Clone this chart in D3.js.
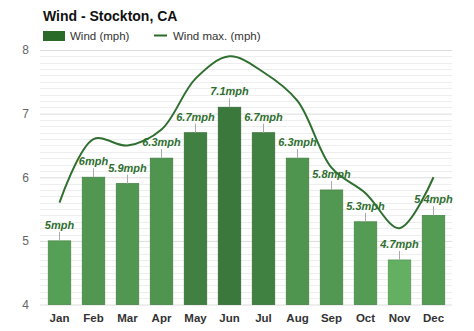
<!DOCTYPE html>
<html><head><meta charset="utf-8">
<script src="https://cdn.jsdelivr.net/npm/d3@7"></script>
<style>
html,body{margin:0;padding:0;background:#fff;}
svg{display:block;font-family:"Liberation Sans",Arial,Helvetica,sans-serif;}
</style></head>
<body><svg id="c" width="474" height="331"></svg>
<script>
const months = ["Jan","Feb","Mar","Apr","May","Jun","Jul","Aug","Sep","Oct","Nov","Dec"];
const wind = [5, 6, 5.9, 6.3, 6.7, 7.1, 6.7, 6.3, 5.8, 5.3, 4.7, 5.4];
const windMax = [5.6, 6.6, 6.5, 6.75, 7.55, 7.9, 7.65, 7.2, 6.15, 5.75, 5.2, 6.0];
const yTicks = [4, 5, 6, 7, 8];
const title = "Wind - Stockton, CA";
const legendLabels = ["Wind (mph)", "Wind max. (mph)"];

const svg = d3.select("#c");
const x = d3.scaleBand().domain(months).range([42.5, 450.5]).paddingInner(0.34).paddingOuter(0.17);
const y = d3.scaleLinear().domain([4, 8]).range([304.5, 50]);
const color = d3.scaleLinear().domain([4.7, 5.0, 6.3, 6.7, 7.1])
  .range(["#63b063", "#569f56", "#4f944f", "#408040", "#3b783b"]);

// minor gridlines
const minor = d3.range(40, 80).map(d => d / 10).filter(d => d % 1 !== 0);
svg.append("g").selectAll("line").data(minor).join("line")
  .attr("x1", 40).attr("x2", 452)
  .attr("y1", d => Math.round(y(d)) + 0.5).attr("y2", d => Math.round(y(d)) + 0.5)
  .attr("stroke", "#eeeeee").attr("stroke-width", 1);

// major gridlines via axis
const yAxis = d3.axisLeft(y).tickValues(yTicks).tickSize(-412).tickFormat(d3.format("d"));
const gy = svg.append("g").attr("transform", "translate(40,0)").call(yAxis);
gy.select(".domain").remove();
gy.selectAll(".tick line").attr("stroke", "#dcdcdc");
gy.selectAll(".tick text").attr("x", -11).attr("fill", "#666").attr("font-size", "12px")
  .attr("font-family", "'Liberation Sans',Arial,sans-serif");

// bars
svg.append("g").selectAll("rect").data(months).join("rect")
  .attr("x", d => x(d))
  .attr("y", (d, i) => y(wind[i]))
  .attr("width", x.bandwidth())
  .attr("height", (d, i) => y(4) - y(wind[i]))
  .attr("fill", (d, i) => color(wind[i]))
  .attr("stroke", (d, i) => d3.color(color(wind[i])).darker(0.4))
  .attr("stroke-width", 0.8);

// x axis labels
const xAxis = d3.axisBottom(x).tickSize(0).tickPadding(0);
const gx = svg.append("g").attr("transform", "translate(0,304.5)").call(xAxis);
gx.select(".domain").remove();
gx.selectAll(".tick text").attr("y", 9).attr("dy", "0.71em")
  .attr("font-size", "11.5px").attr("font-weight", "bold").attr("fill", "#333")
  .attr("font-family", "'Liberation Sans',Arial,sans-serif");

// line
const line = d3.line()
  .x((d, i) => x(months[i]) + x.bandwidth() / 2)
  .y(d => y(d))
  .curve(d3.curveCatmullRom.alpha(0.5));
svg.append("path").datum(windMax).attr("d", line)
  .attr("fill", "none").attr("stroke", "#2f6f2f").attr("stroke-width", 2);

// data label ticks and labels
const lab = svg.append("g");
lab.selectAll("line").data(months).join("line")
  .attr("x1", d => x(d) + x.bandwidth() / 2).attr("x2", d => x(d) + x.bandwidth() / 2)
  .attr("y1", (d, i) => y(wind[i])).attr("y2", (d, i) => y(wind[i]) - 9)
  .attr("stroke", "#aaa").attr("stroke-width", 1);
lab.selectAll("text").data(months).join("text")
  .attr("x", d => x(d) + x.bandwidth() / 2)
  .attr("y", (d, i) => y(wind[i]) - 12)
  .attr("text-anchor", "middle")
  .attr("font-size", "11px").attr("font-weight", "bold").attr("font-style", "italic")
  .attr("fill", "#2f6f2f")
  .text((d, i) => wind[i] + "mph");

// title
svg.append("text").attr("x", 43).attr("y", 21).text(title)
  .attr("font-size", "14px").attr("font-weight", "bold").attr("fill", "#111");

// legend
svg.append("rect").attr("x", 43).attr("y", 31).attr("width", 22).attr("height", 10).attr("fill", "#2a6b2a");
svg.append("text").attr("x", 70).attr("y", 40).text(legendLabels[0])
  .attr("font-size", "11.5px").attr("fill", "#333");
svg.append("line").attr("x1", 154).attr("x2", 167).attr("y1", 35.5).attr("y2", 35.5)
  .attr("stroke", "#2a6b2a").attr("stroke-width", 2);
svg.append("text").attr("x", 173).attr("y", 40).text(legendLabels[1])
  .attr("font-size", "11.5px").attr("fill", "#333");
</script></body></html>
